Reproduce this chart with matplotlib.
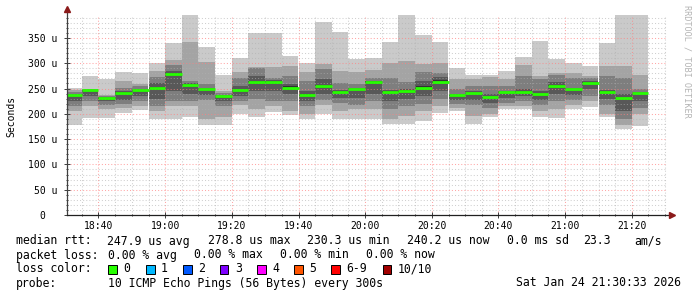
import datetime as dt
import matplotlib
matplotlib.use('Agg')
from matplotlib import pyplot as plt
from matplotlib import dates as mdates
from matplotlib.patches import Rectangle
from matplotlib.ticker import MultipleLocator, FuncFormatter

plt.rcParams['font.family'] = 'DejaVu Sans Mono'

# start of every 5 minute step (Jan 24 2026)
slots = ['18:30', '18:35', '18:40', '18:45', '18:50', '18:55', '19:00', '19:05',
         '19:10', '19:15', '19:20', '19:25', '19:30', '19:35', '19:40', '19:45',
         '19:50', '19:55', '20:00', '20:05', '20:10', '20:15', '20:20', '20:25',
         '20:30', '20:35', '20:40', '20:45', '20:50', '20:55', '21:00', '21:05',
         '21:10', '21:15', '21:20']

# median rtt per step (us)
median_rtt = [237, 247, 230.3, 241.7, 247, 251.6, 278.8, 257, 249, 235, 247, 263.4,
              263, 252, 237, 255.5, 243.6, 248.4, 262.8, 243.6, 245.6, 252, 263.4,
              236.5, 240.4, 232.5, 242.4, 243.6, 239, 255, 249, 261.4, 243.6, 230.6, 240.2]

# the 10 sorted pings of every step (us), fastest first
rtt_1 = [178, 192, 192, 201, 208, 189, 189, 193, 178, 178, 200, 194, 204, 198, 189, 199, 189, 190,
         190, 180, 180, 186, 202, 206, 180, 193, 209, 209, 194, 192, 209, 214, 194, 169, 175]
rtt_2 = [205, 215, 210, 212, 215, 205, 215, 215, 190, 194, 217, 210, 215, 205, 200, 218, 205, 210,
         210, 190, 195, 205, 215, 212, 195, 200, 215, 215, 206, 210, 218, 225, 200, 178, 200]
rtt_3 = [215, 225, 218, 220, 225, 215, 225, 225, 228, 215, 225, 230, 225, 225, 215, 228, 222, 218,
         225, 210, 215, 220, 230, 220, 218, 212, 222, 225, 218, 225, 228, 235, 218, 190, 212]
rtt_4 = [225, 235, 225, 228, 235, 230, 245, 240, 238, 225, 235, 245, 245, 240, 225, 240, 232, 232,
         240, 225, 230, 235, 245, 228, 228, 222, 232, 235, 228, 240, 238, 250, 230, 205, 225]
rtt_5 = [236, 246, 229.6, 240, 246, 250, 277, 256, 248, 234, 246, 262, 262, 251, 235, 254, 242, 247,
         262, 242, 244, 250, 261, 235, 239, 231, 241, 242, 238, 253, 248, 260, 242, 229, 239]
rtt_6 = [238, 247.5, 231, 243, 248, 253, 280, 258, 250, 236, 248, 265, 264, 254, 239, 257, 245, 249,
         264, 245, 247, 254, 266, 238, 242, 234, 244, 245, 240, 257, 250, 262, 245, 232, 241]
rtt_7 = [240, 248, 233, 246, 250, 260, 285, 260, 252, 238, 255, 275, 266, 258, 245, 268, 248, 252,
         265, 248, 250, 265, 272, 240, 245, 240, 246, 250, 245, 262, 252, 264, 248, 240, 243]
rtt_8 = [244, 249, 236, 252, 255, 272, 296, 265, 258, 241, 270, 290, 270, 275, 265, 288, 260, 259,
         270, 270, 263, 283, 281, 250, 255, 255, 255, 275, 268, 276, 270, 270, 275, 270, 250]
rtt_9 = [248, 250, 238, 265, 259, 285, 306, 341, 303, 245, 283, 293, 293, 295, 283, 298, 285, 283,
         286, 300, 304, 298, 300, 269, 269, 272, 268, 296, 275, 280, 280, 275, 294, 294, 277]
rtt_10 = [251, 275, 269, 283, 281, 301, 340, 420, 333, 277, 311, 359, 360, 314, 301, 382, 362, 308,
          311, 342, 430, 356, 342, 290, 277, 277, 285, 313, 344, 308, 300, 295, 339, 410, 440]

loss_labels = ['0', '1', '2', '3', '4', '5', '6-9', '10/10']
loss_colors = ['#26ff00', '#00b8ff', '#0059ff', '#7e00ff', '#ff00ff', '#ff5500', '#ff0000', '#a10000']
smoke_grays = ['#cacaca', '#a4a4a4', '#7e7e7e', '#585858', '#323232']

day = dt.date(2026, 1, 24)
t0 = [dt.datetime.combine(day, dt.time(int(s[:2]), int(s[3:]))) for s in slots]
t1 = [t + dt.timedelta(minutes=5) for t in t0]
step = 5 / 1440.0

W, H = 697, 297
fig = plt.figure(figsize=(W / 100, H / 100), dpi=100)
fig.patch.set_facecolor('white')
ax = fig.add_axes([67 / W, 82 / H, 600 / W, 200 / H])

# smoke: pairs of pings, outer pair lightest
pings = [rtt_1, rtt_2, rtt_3, rtt_4, rtt_5, rtt_6, rtt_7, rtt_8, rtt_9, rtt_10]
for i in range(5):
    lo = pings[i]
    hi = pings[9 - i]
    ax.bar(t0, [h - l for h, l in zip(hi, lo)], width=step, bottom=lo, align='edge',
           color=smoke_grays[i], linewidth=0, zorder=1)

# median line in loss colour (no loss -> green)
ax.hlines(median_rtt, t0, t1, colors=loss_colors[0], linewidth=2.0, zorder=3)

ax.set_xlim(dt.datetime(2026, 1, 24, 18, 30, 33), dt.datetime(2026, 1, 24, 21, 30, 33))
ax.set_ylim(0, 395.3)

ax.xaxis.set_major_locator(mdates.MinuteLocator(byminute=[0, 20, 40]))
ax.xaxis.set_minor_locator(mdates.MinuteLocator(byminute=range(0, 60, 5)))
ax.xaxis.set_major_formatter(mdates.DateFormatter('%H:%M'))
ax.yaxis.set_major_locator(MultipleLocator(50))
ax.yaxis.set_minor_locator(MultipleLocator(10))
ax.yaxis.set_major_formatter(FuncFormatter(lambda v, p: '0  ' if v == 0 else '%d u' % v))

ax.set_axisbelow(False)
ax.grid(which='minor', color='#b0b0b0', alpha=0.6, linestyle=(0, (1, 2)), linewidth=0.75)
ax.grid(which='major', color='#ff8080', alpha=0.7, linestyle=(0, (1, 2)), linewidth=0.75)

for s in ax.spines.values():
    s.set_visible(False)
ax.tick_params(which='both', direction='inout', color='#404040', labelsize=7,
               width=0.7)
ax.tick_params(which='major', length=4)
ax.tick_params(which='minor', length=2)
ax.tick_params(axis='x', pad=2)
ax.tick_params(axis='y', pad=5)

# axes with arrow heads
ax.plot([0, 0], [0, 1.03], color='#404040', lw=0.9, transform=ax.transAxes, clip_on=False, zorder=5)
ax.plot([0, 1.008], [0, 0], color='#202020', lw=0.9, transform=ax.transAxes, clip_on=False, zorder=5)
ax.plot([0], [1.03], marker='^', ms=4, color='#8b1a1a', transform=ax.transAxes, clip_on=False, zorder=6)
ax.plot([1.008], [0], marker='>', ms=4, color='#8b1a1a', transform=ax.transAxes, clip_on=False, zorder=6)

fig.text(11 / W, 1 - 116 / H, 'Seconds', rotation=90, ha='center', va='center', fontsize=7)
fig.text(687 / W, 1 - 5 / H, 'RRDTOOL / TOBI OETIKER', rotation=270, ha='center', va='top',
         fontsize=6.1, color='#b4b4b4')


def put(x, y, s):
    fig.text(x / W, 1 - y / H, s, ha='left', va='center', fontsize=8.3)


# legend block under the graph
put(16, 241, 'median rtt:')
for x, s in [(107, '247.9 us avg'), (208, '278.8 us max'), (307, '230.3 us min'),
             (407, '240.2 us now'), (507, '0.0 ms sd'), (583, '23.3'), (634, 'am/s')]:
    put(x, 241, s)

put(16, 255, 'packet loss:')
for x, s in [(108, '0.00 % avg'), (194, '0.00 % max'), (280, '0.00 % min'), (366, '0.00 % now')]:
    put(x, 255, s)

put(16, 269, 'loss color:')
box_x = [108, 146, 183, 220, 257, 294, 331, 383]
for bx, lab, col in zip(box_x, loss_labels, loss_colors):
    fig.patches.append(Rectangle((bx / W, 1 - 273.5 / H), 8.5 / W, 8.5 / H, transform=fig.transFigure,
                                 facecolor=col, edgecolor='black', linewidth=0.7))
    put(bx + 15, 269, lab)

put(16, 283, 'probe:')
put(108, 283, '10 ICMP Echo Pings (56 Bytes) every 300s')
fig.text(681 / W, 1 - 283 / H, 'Sat Jan 24 21:30:33 2026', ha='right', va='center', fontsize=8.3)

fig.savefig('out.png', dpi=100)
